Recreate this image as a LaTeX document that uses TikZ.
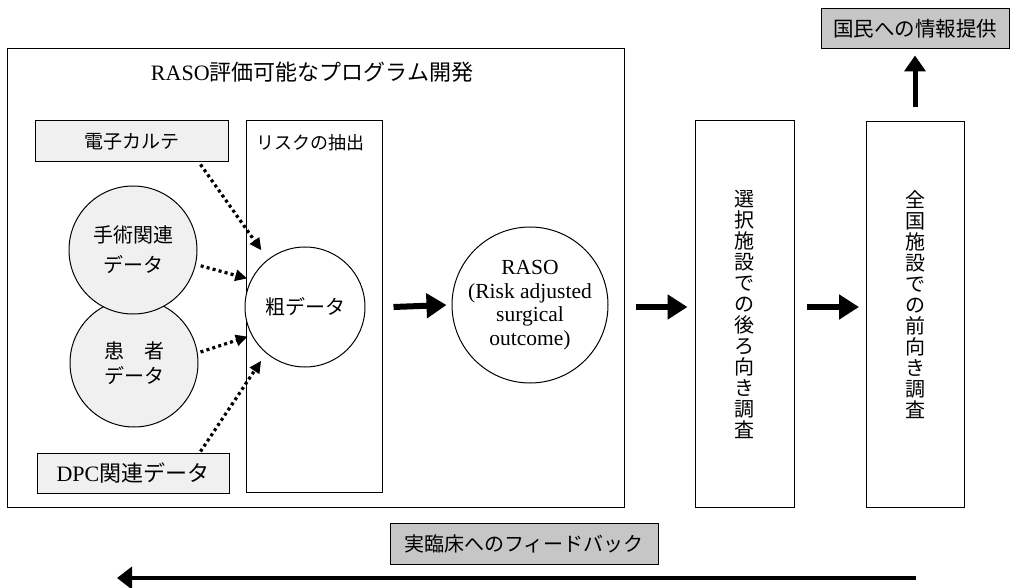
\documentclass[tikz,border=0pt]{standalone}
\usepackage{fontspec}
\setmainfont{Liberation Serif}
\newfontfamily\jp{Noto Sans CJK JP}
\newcommand\vjpfont{\jp\fontsize{20}{21}\selectfont\lineskiplimit=-20pt\relax}
\usetikzlibrary{arrows.meta,calc}
\begin{document}
\begin{tikzpicture}[x=1pt,y=-1pt,
  box/.style={draw,line width=1pt,rectangle,inner sep=0pt},
  databox/.style={box,fill=gray!12},
  graybox/.style={box,fill=gray!45},
  circ/.style={draw,line width=1pt,circle,inner sep=0pt,align=center},
  datacirc/.style={circ,fill=gray!12},
  dotarrow/.style={line width=3.2pt,dash pattern=on 3pt off 3.2pt,-{Triangle[length=12pt,width=11pt]}},
  bigarrow/.style={line width=6pt,-{Triangle[length=20pt,width=24pt]}},
  uparrow/.style={line width=5pt,-{Triangle[length=16pt,width=21pt]}},
  fbarrow/.style={line width=4.5pt,-{Triangle[length=15pt,width=22pt]}},
  vtext/.style={anchor=north,inner sep=0pt,align=center,font=\vjpfont}
]
\useasboundingbox (0,0) rectangle (1010,588);

% main frame
\node[box,line width=1pt,minimum width=617pt,minimum height=458pt] (frame) at (315.5,278) {};
\node[font=\fontsize{22}{26}\selectfont] (title) at (312,72) {RASO{\jp 評価可能なプログラム開発}};

% risk extraction box
\node[box,minimum width=136pt,minimum height=371pt] (risk) at (314,306.5) {};
\node[font=\jp\fontsize{18}{22}\selectfont] (riskttl) at (310,143) {リスクの抽出};

% data sources
\node[databox,minimum width=193pt,minimum height=41pt,font=\jp\fontsize{19}{23}\selectfont] (denshi) at (131.5,141.5) {電子カルテ};
\node[databox,minimum width=192pt,minimum height=40pt,font=\fontsize{22}{25}\selectfont] (dpc) at (133,473) {DPC{\jp 関連データ}};
\node[datacirc,minimum size=128pt,font=\jp\fontsize{20}{25}\selectfont] (kanja) at (134,363) {患　者\\データ};
\node[datacirc,minimum size=128pt,font=\jp\fontsize{20}{30}\selectfont] (shujutsu) at (133,250) {手術関連\\データ};

% raw data and RASO
\node[circ,fill=white,minimum size=120pt,font=\jp\fontsize{20}{24}\selectfont] (soda) at (305,307) {粗データ};
\node[circ,minimum size=156pt,font=\fontsize{21.5}{23.5}\selectfont] (raso) at (530,305) {RASO\\(Risk adjusted\\surgical\\outcome)};

% surveys
\node[box,minimum width=99pt,minimum height=386pt] (sentaku) at (744.5,314) {};
\node[vtext] (sentakut) at (744.5,190) {選\\択\\施\\設\\で\\の\\後\\ろ\\向\\き\\調\\査};
\node[box,minimum width=98pt,minimum height=385pt] (zenkoku) at (915.5,314.5) {};
\node[vtext] (zenkokut) at (915.5,190) {全\\国\\施\\設\\で\\の\\前\\向\\き\\調\\査};

% information boxes
\node[graybox,minimum width=188pt,minimum height=40pt,font=\jp\fontsize{20.5}{24}\selectfont] (kokumin) at (915,29) {国民への情報提供};
\node[graybox,minimum width=268pt,minimum height=41pt,font=\jp\fontsize{20}{24}\selectfont] (fb) at (524,543.5) {実臨床へのフィードバック};

% dotted arrows into raw data
\draw[dotarrow,shorten >=11pt] ($(denshi.south east)+(-28,2)$) -- (soda.128);
\draw[dotarrow,shorten <=5pt,shorten >=4pt] (shujutsu.-13) -- (soda.153);
\draw[dotarrow,shorten <=3pt,shorten >=4pt] (kanja.9) -- (soda.-152);
\draw[dotarrow,shorten >=9pt] ($(dpc.north east)+(-29,-1)$) -- (soda.230);

% thick arrows
\draw[bigarrow] ($(soda.east)+(28,0)$) -- ($(raso.west)+(-5,0)$);
\draw[bigarrow] ($(frame.east |- raso.east)+(11,2)$) -- ($(sentaku.west |- raso.east)+(-7,2)$);
\draw[bigarrow] ($(sentaku.east |- raso.east)+(12,2)$) -- ($(zenkoku.west |- raso.east)+(-7,2)$);
\draw[uparrow] ($(zenkoku.north)+(-0.5,-14)$) -- ($(kokumin.south)+(0,6)$);

% feedback arrow
\coordinate (fbstart) at (916,578);
\coordinate (fbend) at (117,578);
\draw[fbarrow] (fbstart) -- (fbend);
\end{tikzpicture}
\end{document}
